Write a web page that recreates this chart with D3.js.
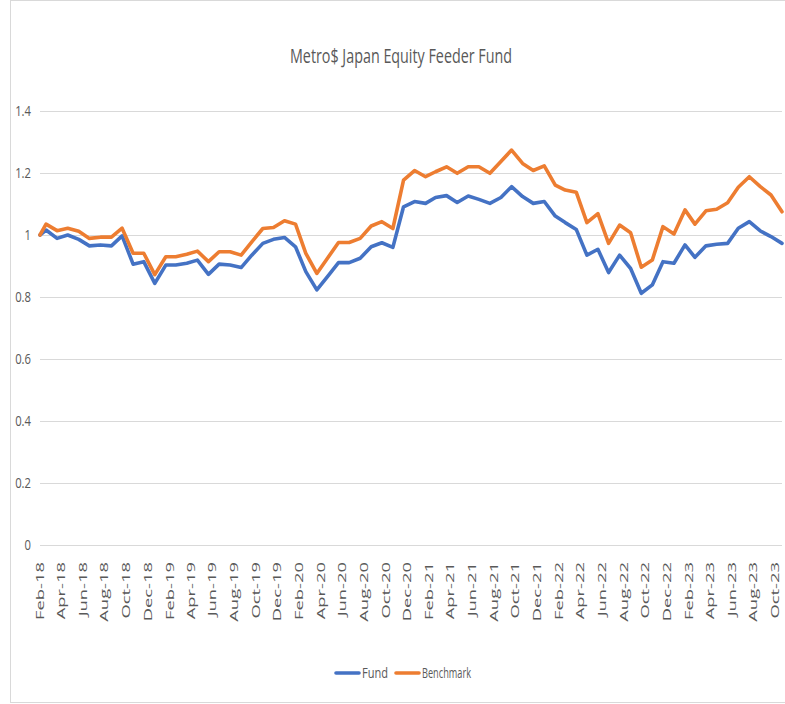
<!DOCTYPE html>
<html>
<head>
<meta charset="utf-8">
<title>Metro$ Japan Equity Feeder Fund</title>
<script src="https://cdn.jsdelivr.net/npm/d3@7"></script>
<style>
  body { margin: 0; background: #fff; }
  svg text { font-family: 'Open Sans', sans-serif; fill: #595959; }
  .grid line { stroke: #d9d9d9; stroke-width: 1px; }
  .series { fill: none; stroke-width: 3.6px; stroke-linejoin: round; stroke-linecap: round; }
</style>
</head>
<body>
<script>
// first point is the inception date, the rest are month ends
var dates = ["2018-02-11",
  "2018-02-28","2018-03-31","2018-04-30","2018-05-31","2018-06-30","2018-07-31","2018-08-31","2018-09-30","2018-10-31","2018-11-30","2018-12-31",
  "2019-01-31","2019-02-28","2019-03-31","2019-04-30","2019-05-31","2019-06-30","2019-07-31","2019-08-31","2019-09-30","2019-10-31","2019-11-30","2019-12-31",
  "2020-01-31","2020-02-29","2020-03-31","2020-04-30","2020-05-31","2020-06-30","2020-07-31","2020-08-31","2020-09-30","2020-10-31","2020-11-30","2020-12-31",
  "2021-01-31","2021-02-28","2021-03-31","2021-04-30","2021-05-31","2021-06-30","2021-07-31","2021-08-31","2021-09-30","2021-10-31","2021-11-30","2021-12-31",
  "2022-01-31","2022-02-28","2022-03-31","2022-04-30","2022-05-31","2022-06-30","2022-07-31","2022-08-31","2022-09-30","2022-10-31","2022-11-30","2022-12-31",
  "2023-01-31","2023-02-28","2023-03-31","2023-04-30","2023-05-31","2023-06-30","2023-07-31","2023-08-31","2023-09-30","2023-10-31"];

var fund = [1.000,
  1.016,0.989,1.000,0.986,0.965,0.968,0.965,0.997,0.906,0.914,0.844,
  0.903,0.903,0.909,0.919,0.873,0.906,0.903,0.895,0.935,0.973,0.986,0.992,
  0.962,0.882,0.823,0.866,0.911,0.911,0.925,0.962,0.975,0.960,1.091,1.108,
  1.102,1.121,1.127,1.105,1.126,1.115,1.102,1.121,1.156,1.124,1.102,1.108,
  1.061,1.040,1.018,0.935,0.954,0.879,0.935,0.892,0.812,0.839,0.914,0.909,
  0.968,0.928,0.965,0.970,0.973,1.022,1.043,1.013,0.995,0.973];

var benchmark = [1.000,
  1.035,1.014,1.022,1.012,0.989,0.993,0.993,1.022,0.941,0.941,0.872,
  0.930,0.930,0.938,0.948,0.914,0.946,0.946,0.935,0.978,1.021,1.024,1.046,
  1.035,0.941,0.876,0.925,0.976,0.976,0.989,1.029,1.043,1.021,1.177,1.208,
  1.188,1.204,1.220,1.199,1.220,1.220,1.199,1.237,1.274,1.231,1.208,1.223,
  1.161,1.145,1.138,1.040,1.069,0.973,1.032,1.007,0.896,0.919,1.027,1.003,
  1.081,1.035,1.078,1.083,1.104,1.154,1.188,1.156,1.129,1.075];

var yTicks = [0, 0.2, 0.4, 0.6, 0.8, 1, 1.2, 1.4];
var seriesNames = ["Fund", "Benchmark"];
var colors = ["#4472c4", "#ed7d31"];

var width = 785, height = 704;
var parse = d3.timeParse("%Y-%m-%d");
var xDates = dates.map(parse);

var svg = d3.select("body").append("svg")
  .attr("width", width)
  .attr("height", height);

// chart area border (right side is cut off in the original)
svg.append("rect")
  .attr("x", 10.5).attr("y", 0.5)
  .attr("width", 800).attr("height", 702)
  .attr("fill", "none")
  .attr("stroke", "#d9d9d9");

var x = d3.scaleTime()
  .domain([xDates[0], xDates[xDates.length - 1]])
  .range([40, 782]);

var y = d3.scaleLinear()
  .domain([0, 1.4])
  .range([545, 111]);

svg.append("text")
  .attr("x", 401).attr("y", 63)
  .attr("text-anchor", "middle")
  .attr("font-size", 20)
  .attr("textLength", 222)
  .attr("lengthAdjust", "spacingAndGlyphs")
  .text("Metro$ Japan Equity Feeder Fund");

// gridlines
svg.append("g").attr("class", "grid")
  .selectAll("line")
  .data(yTicks)
  .enter().append("line")
    .attr("x1", 40).attr("x2", 782)
    .attr("y1", function(d) { return Math.round(y(d)) + 0.5; })
    .attr("y2", function(d) { return Math.round(y(d)) + 0.5; });

// y labels
svg.append("g")
  .selectAll("text")
  .data(yTicks)
  .enter().append("text")
    .attr("text-anchor", "end")
    .attr("font-size", 15)
    .attr("transform", function(d) { return "translate(31," + (y(d) + 5) + ") scale(0.75,1)"; })
    .text(function(d) { return d; });

// x labels, every second month starting at the first date
var xTicks = d3.range(0, 35).map(function(k) { return d3.timeMonth.offset(xDates[0], 2 * k); });
var fmt = d3.timeFormat("%b-%y");
svg.append("g")
  .selectAll("text")
  .data(xTicks)
  .enter().append("text")
    .attr("text-anchor", "end")
    .attr("font-size", 10.5)
    .attr("font-family", "DejaVu Sans")
    .attr("transform", function(d) { return "translate(" + (x(d) + 4) + ",562) rotate(-90) scale(1.75,1)"; })
    .text(function(d) { return fmt(d); });

var line = d3.line()
  .x(function(d, i) { return x(xDates[i]); })
  .y(function(d) { return y(d); });

[fund, benchmark].forEach(function(s, i) {
  svg.append("path")
    .attr("class", "series")
    .attr("stroke", colors[i])
    .attr("d", line(s));
});

// legend
var legendX = [336, 396];
var legendW = [26, 49];
var lg = svg.append("g").selectAll("g")
  .data(seriesNames)
  .enter().append("g")
    .attr("transform", function(d, i) { return "translate(" + legendX[i] + ",673)"; });
lg.append("line")
  .attr("x1", 0).attr("x2", 23)
  .attr("stroke", function(d, i) { return colors[i]; })
  .attr("stroke-width", 3.6)
  .attr("stroke-linecap", "round");
lg.append("text")
  .attr("x", 26).attr("y", 5)
  .attr("font-size", 14)
  .attr("textLength", function(d, i) { return legendW[i]; })
  .attr("lengthAdjust", "spacingAndGlyphs")
  .text(function(d) { return d; });
</script>
</body>
</html>
